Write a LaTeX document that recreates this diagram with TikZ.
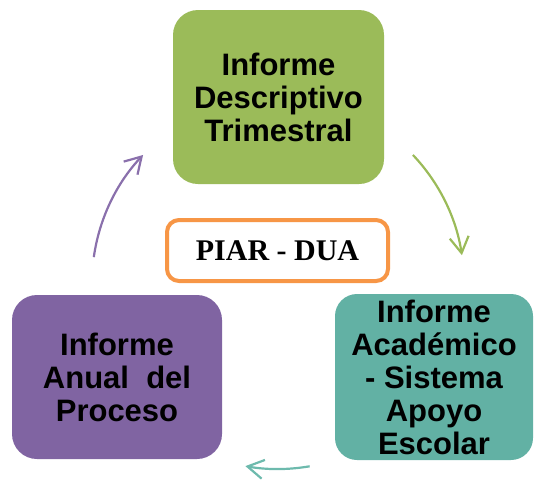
\documentclass[tikz,border=0pt]{standalone}
\usepackage{fontspec}
\setmainfont{Liberation Sans}
\newfontfamily\piarfont{Liberation Serif}
\usetikzlibrary{arrows.meta}
\definecolor{piargreen}{HTML}{9BBB59}
\definecolor{piarpurple}{HTML}{8064A2}
\definecolor{piarteal}{HTML}{62B1A4}
\definecolor{piarorange}{HTML}{F79646}
\definecolor{arrowpurple}{HTML}{8A70AC}
\definecolor{arrowteal}{HTML}{6DBAAD}
\tikzset{
	informe/.style={rounded corners=25pt, align=center, inner sep=0pt, font=\bfseries\fontsize{31}{33}\selectfont},
	cyclearrow/.style={line width=2.2pt, -{Straight Barb[length=16pt,width=19pt,line width=2.2pt]}},
}

\begin{document}
\begin{tikzpicture}[x=1pt,y=-1pt]
				\useasboundingbox (0,0) rectangle (534,480);
				
				\node[informe, fill=piargreen, minimum width=211pt, minimum height=174pt] (trimestral) at (278.5,97) {Informe\\Descriptivo\\Trimestral};
				\node[informe, fill=piarteal, rounded corners=22pt, minimum width=198pt, minimum height=166pt] (academico) at (434,377) {Informe\\Acad\'emico\\- Sistema\\Apoyo\\Escolar};
				\node[informe, fill=piarpurple, minimum width=210pt, minimum height=164pt] (anual) at (117,377) {Informe\\Anual\ \ del\\Proceso};
				
				\node[draw=piarorange, line width=4pt, fill=white, rounded corners=12pt, minimum width=221pt, minimum height=61pt, font=\piarfont\bfseries\fontsize{30}{36}\selectfont] (piar) at (277.5,250.5) {PIAR - DUA};
				
				\coordinate (hub) at (278,283);
				\draw[cyclearrow, draw=piargreen] ([shift={(316.5:186)}]hub) arc[start angle=316.5, end angle=351.4, radius=186];
				\draw[cyclearrow, draw=arrowteal] ([shift={(80.2:186)}]hub) arc[start angle=80.2, end angle=100.1, radius=186];
				\draw[cyclearrow, draw=arrowpurple] ([shift={(188:186)}]hub) arc[start angle=188, end angle=223.5, radius=186];
\end{tikzpicture}
\end{document}
